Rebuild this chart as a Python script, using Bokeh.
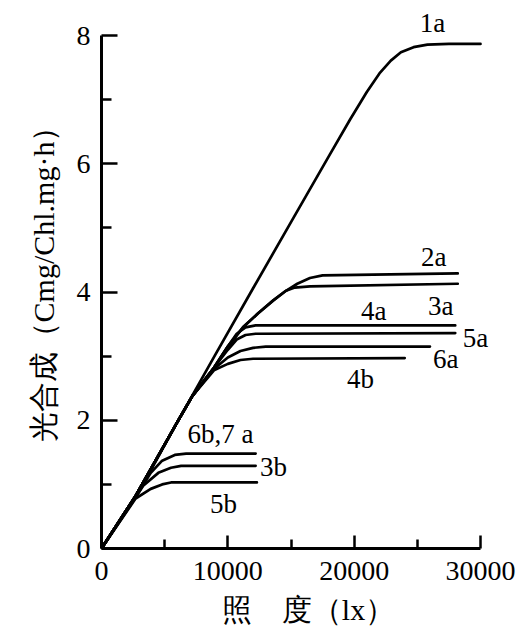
from bokeh.plotting import figure
from bokeh.models import ColumnDataSource, FixedTicker, Range1d
from bokeh.core.properties import value
from bokeh.embed import file_html
from bokeh.resources import INLINE

# ---- data ----
lux_1a = [0, 2700, 3900, 6000, 9000, 12000, 15000, 18000, 19700, 21000, 22000, 22900, 23700, 24700, 25800, 27500, 30000]
pn_1a = [0, 0.82, 1.22, 1.97, 3.02, 4.06, 5.09, 6.12, 6.7, 7.12, 7.41, 7.61, 7.74, 7.82, 7.86, 7.87, 7.87]

lux_2a = [0, 2700, 6000, 7200, 8900, 10000, 11200, 12400, 13600, 14600, 15500, 16500, 17500, 28200]
pn_2a = [0, 0.82, 1.97, 2.38, 2.82, 3.15, 3.45, 3.67, 3.87, 4.02, 4.13, 4.22, 4.26, 4.29]

lux_3a = [0, 2700, 6000, 7200, 8900, 10000, 11200, 12400, 13600, 14600, 15300, 16500, 28200]
pn_3a = [0, 0.82, 1.97, 2.38, 2.82, 3.15, 3.45, 3.67, 3.87, 4.02, 4.07, 4.09, 4.13]

lux_4a = [0, 2700, 6000, 7200, 8900, 10000, 10700, 11400, 12200, 28000]
pn_4a = [0, 0.82, 1.97, 2.38, 2.82, 3.15, 3.35, 3.45, 3.48, 3.48]

lux_5a = [0, 2700, 6000, 7200, 8900, 10000, 10700, 11400, 12200, 28000]
pn_5a = [0, 0.82, 1.97, 2.38, 2.82, 3.1, 3.26, 3.33, 3.35, 3.36]

lux_6a = [0, 2700, 6000, 7200, 8900, 10000, 11000, 12000, 13000, 26000]
pn_6a = [0, 0.82, 1.97, 2.38, 2.8, 2.98, 3.08, 3.13, 3.15, 3.15]

lux_4b = [0, 2700, 6000, 7200, 8900, 10000, 11000, 12000, 24000]
pn_4b = [0, 0.82, 1.97, 2.38, 2.78, 2.88, 2.94, 2.96, 2.97]

lux_6b7a = [0, 2700, 3900, 4800, 5800, 6700, 12200]
pn_6b7a = [0, 0.8, 1.18, 1.37, 1.46, 1.48, 1.48]

lux_3b = [0, 2700, 3300, 4500, 5500, 6300, 12200]
pn_3b = [0, 0.8, 0.98, 1.18, 1.26, 1.29, 1.29]

lux_5b = [0, 2700, 3900, 4800, 5500, 12300]
pn_5b = [0, 0.78, 0.93, 1.0, 1.03, 1.03]

label_text = ["1a", "2a", "3a", "4a", "5a", "6a", "4b", "6b,7 a", "3b", "5b"]
label_x = [26200, 26300, 26850, 21550, 29600, 27250, 20500, 9420, 13620, 9660]
label_y = [8.19, 4.54, 3.79, 3.71, 3.29, 2.96, 2.65, 1.79, 1.27, 0.70]

x_major = [0, 10000, 20000, 30000]
x_minor = [5000, 15000, 25000]
y_major = [0, 2, 4, 6, 8]
y_minor = [1, 3, 5, 7]

x_title = "照　度（lx）"
y_title = "光合成（Cmg/Chl.mg·h）"

SERIF = "Liberation Serif"

p = figure(width=529, height=629, output_backend="svg", toolbar_location=None,
           x_range=Range1d(0, 32770), y_range=Range1d(0, 8.47),
           min_border_left=101, min_border_right=14, min_border_top=5, min_border_bottom=81)
p.background_fill_color = "white"
p.border_fill_color = "white"
p.outline_line_color = None
p.grid.visible = False

series = [(lux_1a, pn_1a), (lux_2a, pn_2a), (lux_3a, pn_3a), (lux_4a, pn_4a),
          (lux_5a, pn_5a), (lux_6a, pn_6a), (lux_4b, pn_4b), (lux_6b7a, pn_6b7a),
          (lux_3b, pn_3b), (lux_5b, pn_5b)]
for xs, ys in series:
    p.line(xs, ys, line_color="black", line_width=2.7, line_join="round", line_cap="round")

src = ColumnDataSource(dict(x=label_x, y=label_y, t=label_text))
p.text(x="x", y="y", text="t", source=src, text_align="center", text_baseline="middle",
       text_font=value(SERIF), text_font_size="27px", text_color="black")

# axes
xa = p.xaxis[0]
xa.ticker = FixedTicker(ticks=x_major, minor_ticks=x_minor)
xa.bounds = (0, 30000)
xa.axis_line_width = 3
xa.major_tick_in = 13
xa.major_tick_out = 0
xa.minor_tick_in = 9
xa.minor_tick_out = 0
xa.major_tick_line_width = 2.5
xa.minor_tick_line_width = 2.5
xa.major_label_standoff = 13
xa.major_label_text_font = SERIF
xa.major_label_text_font_size = "28px"
xa.major_label_text_color = "black"
xa.axis_label = x_title
xa.axis_label_text_font = SERIF
xa.axis_label_text_font_size = "30px"
xa.axis_label_text_font_style = "normal"
xa.axis_label_standoff = 10
xa.axis_label_text_color = "black"

ya = p.yaxis[0]
ya.ticker = FixedTicker(ticks=y_major, minor_ticks=y_minor)
ya.bounds = (0, 8)
ya.axis_line_width = 3
ya.major_tick_in = 16
ya.major_tick_out = 0
ya.minor_tick_in = 10
ya.minor_tick_out = 0
ya.major_tick_line_width = 2.5
ya.minor_tick_line_width = 2.5
ya.major_label_standoff = 11
ya.major_label_text_font = SERIF
ya.major_label_text_font_size = "28px"
ya.major_label_text_color = "black"
ya.axis_label = y_title
ya.axis_label_text_font = SERIF
ya.axis_label_text_font_size = "30px"
ya.axis_label_text_font_style = "normal"
ya.axis_label_standoff = 14
ya.axis_label_text_color = "black"

open("out.html", "w").write(file_html(p, INLINE))
